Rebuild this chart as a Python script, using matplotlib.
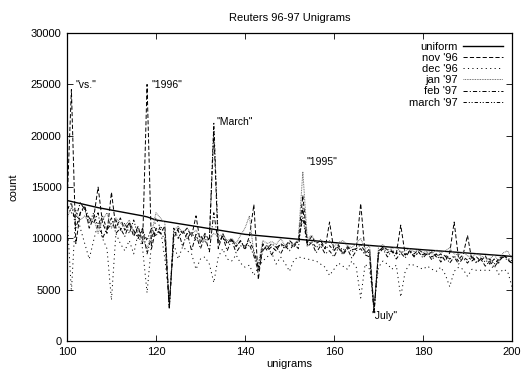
import numpy as np
import matplotlib
matplotlib.use("Agg")
import matplotlib.pyplot as plt

plt.rcParams["font.family"] = ["Liberation Sans", "DejaVu Sans"]
plt.rcParams["lines.scale_dashes"] = False

# -------------------- Data --------------------
rank = np.arange(100, 201)

uniform = [
    13700, 13600, 13500, 13400, 13300, 13200, 13100, 13000, 12920, 12840,
    12760, 12680, 12600, 12520, 12440, 12360, 12280, 12200, 12100, 11950,
    11800, 11730, 11660, 11590, 11520, 11450, 11380, 11310, 11240, 11170,
    11100, 11030, 10960, 10890, 10820, 10750, 10680, 10610, 10540, 10470,
    10400, 10360, 10320, 10280, 10240, 10200, 10160, 10120, 10080, 10040,
    10000, 9960, 9920, 9880, 9840, 9800, 9760, 9720, 9680, 9640,
    9600, 9565, 9530, 9495, 9460, 9425, 9390, 9355, 9320, 9285,
    9250, 9215, 9180, 9145, 9110, 9075, 9040, 9005, 8970, 8935,
    8900, 8870, 8840, 8805, 8775, 8740, 8710, 8675, 8645, 8610,
    8580, 8545, 8515, 8480, 8450, 8415, 8385, 8350, 8320, 8285,
    8250,
]

nov96 = [
    13000, 24500, 9500, 12500, 13200, 11000, 12000, 15000, 11500, 10500,
    14500, 11000, 12000, 10800, 11500, 10200, 11200, 9500, 25000, 9000,
    11000, 10500, 11200, 3500, 10000, 11000, 10500, 11000, 10200, 12200,
    9500, 10500, 9800, 20500, 9000, 10500, 9500, 10000, 9200, 9800,
    9000, 10200, 13300, 6000, 9500, 8800, 9200, 8800, 9500, 9200,
    9800, 9400, 9800, 14200, 9600, 10200, 9500, 9800, 9000, 11600,
    8800, 9400, 8500, 9200, 8900, 9000, 13400, 8500, 9000, 3000,
    8600, 9200, 8900, 8700, 8500, 11300, 8400, 8800, 8500, 8900,
    8600, 8400, 8700, 8200, 8500, 7800, 8600, 11600, 8000, 8400,
    10300, 7800, 8200, 7800, 8300, 7500, 8000, 7600, 8400, 8000,
    7500,
]

dec96 = [
    12500, 4800, 12800, 11000, 9500, 8000, 9800, 11500, 10000, 9000,
    4000, 10500, 9500, 8800, 9800, 8500, 10500, 9000, 4700, 9500,
    12000, 11000, 8000, 4000, 9500, 8000, 9200, 8800, 8500, 7000,
    8000, 8200, 7500, 5700, 8200, 9000, 8000, 7800, 8400, 7600,
    7200, 7400, 6400, 7200, 7800, 8200, 8600, 7500, 8200, 7600,
    6800, 7900, 8200, 8100, 8000, 7900, 7800, 7500, 7200, 6400,
    7000, 7600, 7300, 7000, 7800, 7200, 4200, 7500, 7000, 3400,
    7200, 7800, 7500, 7000, 7400, 4300, 6800, 7500, 7400, 7200,
    7000, 7300, 7000, 6800, 7200, 6500, 5300, 6800, 7200, 7000,
    6300, 7000, 6900, 6900, 6900, 6900, 7400, 6500, 7000, 6800,
    5300,
]

jan97 = [
    12000, 13000, 12500, 11800, 12200, 11500, 12000, 10500, 11800, 12500,
    11000, 12000, 11500, 11200, 11800, 10500, 10800, 10000, 9000, 10500,
    12500, 12000, 11500, 3300, 10800, 11200, 10500, 11000, 10400, 10800,
    10000, 10300, 9900, 10500, 10200, 10400, 9800, 10000, 9500, 10300,
    11000, 12200, 8500, 7500, 9800, 9500, 9700, 9400, 10000, 9300,
    9600, 9400, 10000, 16500, 10000, 10300, 9600, 9900, 9500, 9800,
    9200, 9600, 9800, 9300, 9100, 9500, 10000, 9000, 9300, 2900,
    9200, 9400, 8900, 9000, 9200, 8600, 8800, 9000, 8700, 8900,
    8600, 8800, 8500, 8900, 8600, 8800, 9100, 8500, 8400, 8700,
    8300, 8200, 8500, 8300, 8100, 8000, 8400, 7800, 8600, 8800,
    8000,
]

feb97 = [
    12800, 13500, 11000, 12500, 13000, 12000, 11500, 12500, 10000, 11000,
    12000, 10500, 11000, 10200, 11500, 10800, 10000, 11000, 8500, 10200,
    10800, 10500, 10000, 3100, 10500, 10800, 9200, 10600, 8800, 10400,
    9000, 10200, 8700, 12500, 9500, 10200, 8800, 9900, 8600, 9300,
    9000, 9400, 8300, 6800, 8800, 9400, 8400, 9200, 8500, 9300,
    8800, 9500, 9000, 13000, 9200, 9600, 8600, 9300, 8500, 8800,
    8200, 9100, 8400, 9000, 8100, 8800, 9000, 8400, 8200, 2800,
    8500, 9000, 8200, 8800, 8000, 8600, 8100, 8800, 8200, 8700,
    8100, 8600, 7900, 8500, 7700, 8300, 7600, 8200, 7500, 8100,
    7600, 8200, 7600, 8000, 7300, 7800, 7200, 7800, 8200, 7900,
    7600,
]

mar97 = [
    13200, 12500, 12000, 13500, 12800, 11500, 12500, 11000, 12200, 10800,
    11500, 11800, 10800, 11500, 10500, 11800, 10200, 10800, 9800, 11000,
    10200, 11200, 10500, 3200, 11000, 10000, 10800, 10000, 10600, 9800,
    10300, 9600, 10000, 21300, 9700, 10100, 9500, 9800, 9300, 9700,
    9200, 9800, 8800, 7200, 9400, 9000, 9500, 9100, 9400, 9000,
    9500, 9200, 9700, 12000, 9400, 9700, 9100, 9500, 9000, 9300,
    8800, 9200, 8900, 9100, 8700, 9000, 9400, 8700, 8600, 2700,
    8800, 9100, 8600, 8900, 8500, 8800, 8400, 8700, 8300, 8600,
    8400, 8600, 8200, 8500, 8100, 8400, 8000, 8300, 7800, 8200,
    7900, 8300, 7700, 8100, 7700, 8000, 7500, 8000, 8400, 8100,
    7800,
]

series_names = ["uniform", "nov '96", "dec '96", "jan '97", "feb '97", "march '97"]
series_data = [uniform, nov96, dec96, jan97, feb97, mar97]

# outlier words: (text, x, y)
labels = [
    ('"vs."', 102, 24900),
    ('"1996"', 119, 24900),
    ('"March"', 133.7, 21300),
    ('"1995"', 153.9, 17400),
    ('"July"', 168.5, 2400),
]

# -------------------- Styles --------------------
styles = [
    dict(color="black", lw=1.0, linestyle="-"),
    dict(color="black", lw=0.7, linestyle=(0, (3.0, 1.6))),
    dict(color="black", lw=0.7, linestyle=(0, (0.8, 2.4))),
    dict(color="#606060", lw=0.7, linestyle=(0, (0.6, 0.6))),
    dict(color="black", lw=0.7, linestyle=(0, (3.0, 1.5, 0.8, 1.5))),
    dict(color="black", lw=0.7, linestyle=(0, (2.4, 1.4, 0.8, 1.2, 0.8, 1.4))),
]

# -------------------- Plot --------------------
fig = plt.figure(figsize=(5.23, 3.72), dpi=100)
ax = fig.add_axes([0.128, 0.083, 0.851, 0.828])

for name, data, st in zip(series_names, series_data, styles):
    ax.plot(rank, data, label=name, **st)

for txt, x, y in labels:
    ax.text(x, y, txt, fontsize=7.5, va="center", ha="left")

ax.set_xlim(100, 200)
ax.set_ylim(0, 30000)
ax.set_xticks(np.arange(100, 201, 20))
ax.set_yticks(np.arange(0, 30001, 5000))
ax.tick_params(direction="in", length=4, width=0.6, top=True, right=True,
               labelsize=8, pad=4)
for sp in ax.spines.values():
    sp.set_linewidth(0.9)

ax.set_title("Reuters 96-97 Unigrams", fontsize=8, pad=9)
ax.set_xlabel("unigrams", fontsize=8, labelpad=2)
ax.set_ylabel("count", fontsize=8, labelpad=9)

ax.legend(loc="upper right", frameon=False, markerfirst=False, fontsize=8,
          handlelength=3.6, handletextpad=0.5, labelspacing=0.1,
          borderaxespad=0.4, alignment="right")

fig.savefig("out.png", dpi=100)
